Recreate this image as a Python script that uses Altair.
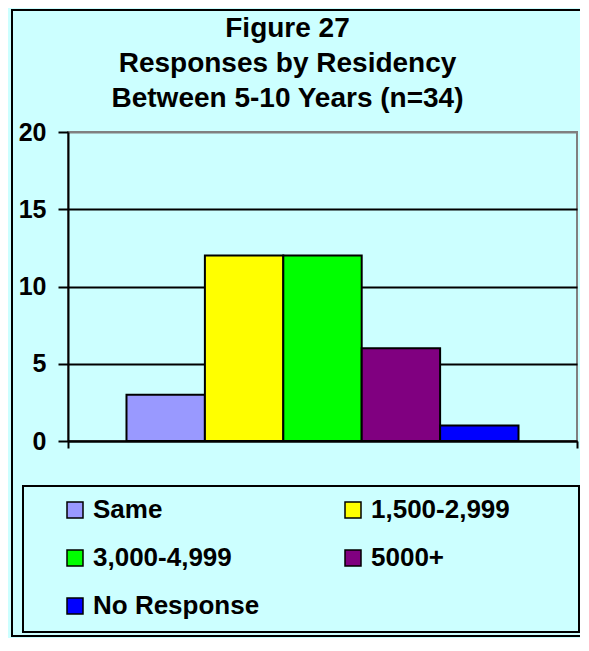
import altair as alt
import pandas as pd

categories = ["Same", "1,500-2,999", "3,000-4,999", "5000+", "No Response"]
values = [3, 12, 12, 6, 1]
colors = ["#9999FF", "#FFFF00", "#00FF00", "#800080", "#0000FF"]
y_ticks = [0, 5, 10, 15, 20]
title_lines = ["Figure 27", "Responses by Residency", "Between 5-10 Years (n=34)"]

df = pd.DataFrame({"group": [""] * len(categories), "category": categories, "value": values})

FONT = "Liberation Sans"

bars = alt.Chart(df).mark_bar(stroke="black", strokeWidth=2).encode(
    x=alt.X(
        "group:N",
        scale=alt.Scale(paddingInner=0, paddingOuter=0),
        axis=alt.Axis(
            title=None, labels=False, ticks=True, tickBand="extent", tickSize=7,
            tickColor="black", tickWidth=2, domainColor="black", domainWidth=2, grid=False,
        ),
    ),
    xOffset=alt.XOffset(
        "category:N", sort=categories,
        scale=alt.Scale(paddingInner=0, paddingOuter=0.746),
    ),
    y=alt.Y(
        "value:Q", stack=False,
        scale=alt.Scale(domain=[0, 20], nice=False),
        axis=alt.Axis(
            values=y_ticks, title=None, labelFont=FONT, labelFontSize=25,
            labelFontWeight="bold", labelColor="black", labelPadding=12,
            tickSize=10, tickColor="black", tickWidth=2,
            domainColor="black", domainWidth=2,
            grid=True, gridWidth=2,
            gridColor={"condition": {"test": "datum.value == 20", "value": "#808080"}, "value": "black"},
        ),
    ),
    color=alt.Color(
        "category:N", sort=categories,
        scale=alt.Scale(domain=categories, range=colors),
        legend=alt.Legend(
            title=None, orient="none", legendX=-6, legendY=365, columns=2,
            direction="horizontal",
            symbolType="square", symbolSize=256, symbolStrokeColor="black",
            symbolStrokeWidth=1.5, symbolOpacity=1,
            labelFont=FONT, labelFontSize=26, labelFontWeight="bold", labelColor="black",
            labelLimit=400,
            labelOffset=5, columnPadding=80, rowPadding=22, padding=0,
        ),
    ),
)

frame = alt.Chart(alt.Data(values=[{}])).mark_rect(
    fill="transparent", stroke="black", strokeWidth=2
).encode(x=alt.value(-56), x2=alt.value(560), y=alt.value(-122), y2=alt.value(504))

legend_box = alt.Chart(alt.Data(values=[{}])).mark_rect(
    fill="transparent", stroke="black", strokeWidth=2
).encode(x=alt.value(-45), x2=alt.value(511), y=alt.value(354), y2=alt.value(500))

chart = alt.layer(frame, legend_box, bars).properties(
    width=509,
    height=309,
    background="#CCFFFF",
    padding={"left": 60, "top": 124, "right": 3, "bottom": 197},
    autosize=alt.AutoSizeParams(type="none"),
    title=alt.TitleParams(
        text=title_lines, font=FONT, fontSize=28, fontWeight="bold", color="black",
        lineHeight=35, anchor="middle", frame="group", dx=-35, dy=104, offset=0,
    ),
).configure_view(stroke="#808080", strokeWidth=2)

chart.save("out.html", embed_options={"renderer": "svg", "actions": False})
